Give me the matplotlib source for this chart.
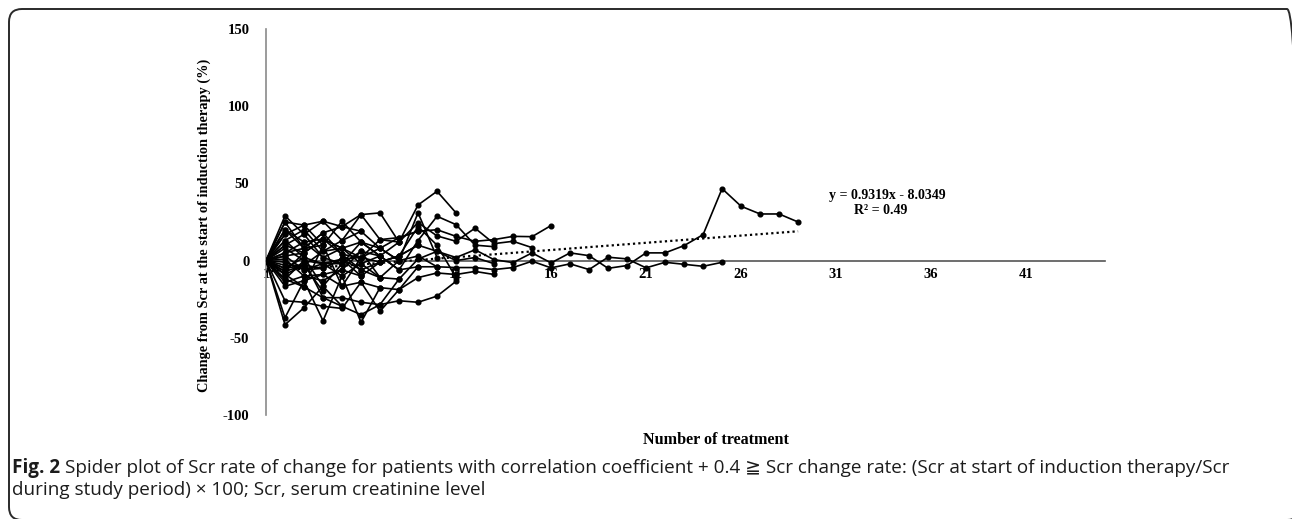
import numpy as np
import matplotlib
matplotlib.use("Agg")
import matplotlib.pyplot as plt
from matplotlib.patches import FancyBboxPatch

plt.rcParams["axes.unicode_minus"] = False

# Scr change (%) per treatment, one list per patient, starting at treatment 1
series = [
    [0, 10, 5, 14, 8, 2, -1, 3, 10, 6, 2, 7, 0.6, -1.3, 5, -1.5, 5, 3.2, -5, -3.2,
     5, 5, 9.7, 16.8, 46.6, 35.2, 30.2, 30.2, 25],
    [0, -9, -3, -5, 1, -6, -11, 0, 3, -4, -4.5, -4.5, -5.8, -4.5, -0.4, -4.7, -2.1,
     -5.8, 2.2, 1.1, -4.7, -1.1, -2.4, -3.7, -1.1],
    [0, 13, 20, 6, 13, 19, 8, 14.9, 19, 20, 15.7, 12.5, 13.6, 15.7, 15.5, 22.7],
    [0, 5, 8, 18, 4, 2, 13.6, 12, 24.6, 16, 12.5, 21, 11, 12.5, 8.4],
    [0, 20, 12, 2, 8, 12, 3, -6, 13, 28.7, 23.3, 10, 9],
    [0, 3, -6, -2, -10, -2, -11, -12, 1, 6, 0, 2, -2],
    [0, -16.6, -13, -9, -16.6, -14, -17.5, -18.8, -11, -8, -9, -7, -9],
    [0, 17, 23, 25.5, 22, 29.8, 30.9, 12, 36, 44.9, 30.9],
    [0, -12, -17, -24, -24, -27, -28.5, -26, -27, -23, -13.4],
    [0, 1, -10, -13, -6, -10, -1, 3, 22, 10, -11],
    [0, 25, 23, 10, 25.5, 12, 8, 0, 31, 2],
    [0, -5, 2, -16.6, -2, 6, 3, -6, -4, -4],
    [0, 29, 17, 25.5, 13, 29.8, 13.6, 14.9, 19],
    [0, -7, 5, 14, 4, -6, -1, 3, 10],
    [0, -26, -27, -29.6, -31, -14, -32.8, -18.8, -4],
    [0, 8, 0, -2, 1, 2, 8, 0],
    [0, -41.5, -30.5, -16.6, -29.6, -35, -28.5, -12],
    [0, -3, -3, 6, 8, -2, 3, 12],
    [0, -37, -13, -39, -10, -40, -17.5],
    [0, 10, 17, 2, -2, 12, 3],
    [0, -14, -10, -9, -6, 6, -11],
    [0, 20, 8, 18, 22, 19],
    [0, -1, -6, -5, 1, -10],
    [0, -9, -17, 10, -16.6, 2],
    [0, 5, 12, 14, 8],
    [0, -12, 0, -24, -29.6],
    [0, 13, 2, -2, -2],
    [0, 24.8, 8, 10],
    [0, -7, -3, -20],
    [0, 3, 5],
    [0, -5, -3],
    [0, 17],
    [0, -9],
]

# linear trendline fitted over treatments 1..29
slope = 0.9319
intercept = -8.0349
r_squared = 0.49
trend_x = [1, 29]

x_ticks = list(range(1, 42, 5))
y_ticks = list(range(-100, 151, 50))

W, H = 1292, 519
fig = plt.figure(figsize=(W / 100, H / 100), dpi=100)


def box(x0, y0, x1, y1):
    return [x0 / W, 1 - y1 / H, (x1 - x0) / W, (y1 - y0) / H]


ax = fig.add_axes(box(266, 29, 1105, 415))
ax.patch.set_alpha(0)

for s in series:
    xs = np.arange(1, len(s) + 1)
    ax.plot(xs, s, color="black", lw=1.2, marker="o", ms=3.4,
            mfc="black", mec="black", zorder=3)

tx = np.array(trend_x, dtype=float)
ax.plot(tx, slope * tx + intercept, color="black", lw=1.6,
        linestyle=(0, (1, 1.4)), zorder=4)

ax.set_xlim(1, 45.15)
ax.set_ylim(-100, 150)
ax.set_xticks(x_ticks)
ax.set_yticks(y_ticks)
ax.set_axisbelow(True)
for side in ("top", "right"):
    ax.spines[side].set_visible(False)
ax.spines["left"].set_color("#8a8a8a")
ax.spines["left"].set_linewidth(1.2)
ax.spines["bottom"].set_position(("data", 0))
ax.spines["bottom"].set_color("#555555")
ax.spines["bottom"].set_linewidth(1.2)
ax.spines["bottom"].set_zorder(1)
ax.tick_params(axis="x", length=0, pad=5)
ax.tick_params(axis="y", length=0, pad=12)
for lab in ax.get_xticklabels() + ax.get_yticklabels():
    lab.set_fontfamily("Liberation Serif")
    lab.set_fontweight("bold")
    lab.set_fontsize(10.5)

serif = dict(family="Liberation Serif", weight="bold", size=10)
fig.text(887 / W, 1 - 195 / H, f"y = {slope}x - {abs(intercept)}",
         ha="center", va="center", **serif)
fig.text(881 / W, 1 - 211 / H, f"R² = {r_squared}",
         ha="center", va="center", **serif)

fig.text(204 / W, 1 - 225 / H,
         "Change from Scr at the start of induction therapy (%)",
         rotation=90, ha="center", va="center",
         family="Liberation Serif", weight="bold", size=10.4)
fig.text(716 / W, 1 - 440 / H, "Number of treatment",
         ha="center", va="center",
         family="Liberation Serif", weight="bold", size=11.6)

# caption under the chart
cap = dict(family=["Open Sans", "DejaVu Sans"], size=13.6, color="#1c1c1c")
renderer = fig.canvas.get_renderer()
fig_lbl = fig.text(12 / W, 1 - 468 / H, "Fig. 2", ha="left", va="center",
                   weight="bold", **cap)
bb = fig_lbl.get_window_extent(renderer)
fig.text((bb.x1 + 5) / W, 1 - 468 / H,
         "Spider plot of Scr rate of change for patients with correlation "
         "coefficient + 0.4 ≧ Scr change rate: (Scr at start of induction "
         "therapy/Scr", ha="left", va="center", **cap)
fig.text(12 / W, 1 - 490 / H,
         "during study period) × 100; Scr, serum creatinine level",
         ha="left", va="center", **cap)

frame = FancyBboxPatch((9 / W, -1 / H), (1291 / W), (511 / H),
                       boxstyle="round,pad=0,rounding_size=%f" % (13 / W),
                       transform=fig.transFigure, fill=False,
                       ec="#2a2a2a", lw=1.4, mutation_aspect=W / H)
fig.patches.append(frame)

fig.savefig("out.png", dpi=100)
